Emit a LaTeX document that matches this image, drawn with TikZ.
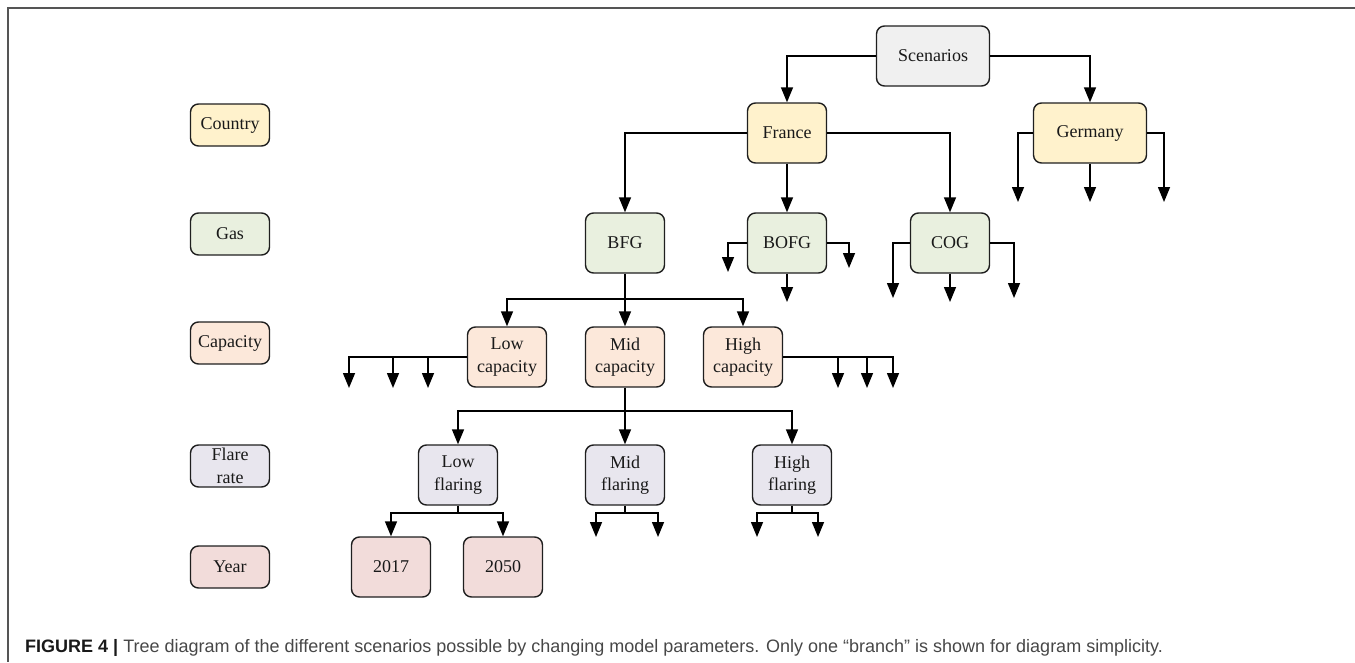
\documentclass[tikz,border=0pt]{standalone}
\usepackage{fontspec}
\setmainfont{Liberation Serif}
\newfontfamily\capfont{Liberation Sans}
\usetikzlibrary{arrows.meta}
\definecolor{cscen}{HTML}{F0F0F0}
\definecolor{ccountry}{HTML}{FFF2CC}
\definecolor{cgas}{HTML}{E9F0DF}
\definecolor{ccap}{HTML}{FCE8DA}
\definecolor{cflare}{HTML}{E8E6EE}
\definecolor{cyear}{HTML}{F2DCDA}
\definecolor{cframe}{HTML}{555555}
\begin{document}
\begin{tikzpicture}[x=1pt,y=-1pt,
  box/.style={draw=black!88, line width=1.4pt, rounded corners=8pt, inner sep=0pt,
    align=center, font=\fontsize{18}{22.5}\selectfont, text=black!90,
    minimum width=79pt, minimum height=60pt},
  lab/.style={box, minimum height=42pt},
  wide/.style={minimum width=113pt},
  arr/.style={draw=black, line width=1.5pt, -{Triangle[width=12pt,length=15pt]}},
  frame/.style={draw=cframe, line width=1.6pt}]
\useasboundingbox (0,0) rectangle (1355,662);
\draw[frame] (1355,8) -- (8,8) -- (8,662);

% level labels
\node[lab, fill=ccountry] (lcountry) at (230,125) {Country};
\node[lab, fill=cgas] (lgas) at (230,234) {Gas};
\node[lab, fill=ccap] (lcap) at (230,343) {Capacity};
\node[lab, fill=cflare] (lflare) at (230,466) {Flare\\rate};
\node[lab, fill=cyear] (lyear) at (230,567) {Year};

% tree nodes
\node[box, wide, fill=cscen] (scen) at (933,56) {Scenarios};
\node[box, fill=ccountry] (france) at (787,133) {France};
\node[box, wide, fill=ccountry] (germany) at (1090,133) {Germany};
\node[box, fill=cgas] (bfg) at (625,243) {BFG};
\node[box, fill=cgas] (bofg) at (787,243) {BOFG};
\node[box, fill=cgas] (cog) at (950,243) {COG};
\node[box, fill=ccap] (lowcap) at (507,357) {Low\\capacity};
\node[box, fill=ccap] (midcap) at (625,357) {Mid\\capacity};
\node[box, fill=ccap] (highcap) at (743,357) {High\\capacity};
\node[box, fill=cflare] (lowfl) at (458,475) {Low\\flaring};
\node[box, fill=cflare] (midfl) at (625,475) {Mid\\flaring};
\node[box, fill=cflare] (highfl) at (792,475) {High\\flaring};
\node[box, fill=cyear] (y2017) at (391,567) {2017};
\node[box, fill=cyear] (y2050) at (503,567) {2050};

% junctions and free ends
\coordinate (bfgj) at (625,299);
\coordinate (midcapj) at (625,411);
\coordinate (lowflj) at (458,513);
\coordinate (midflj) at (625,513);
\coordinate (highflj) at (792,513);
\coordinate (ge1) at (1018,202);
\coordinate (ge2) at (1090,202);
\coordinate (ge3) at (1164,202);
\coordinate (bo1) at (728,272);
\coordinate (bo2) at (787,302);
\coordinate (bo3) at (849,268);
\coordinate (co1) at (893,298);
\coordinate (co2) at (950,302);
\coordinate (co3) at (1014,298);
\coordinate (lc1) at (349,388);
\coordinate (lc2) at (393,388);
\coordinate (lc3) at (428,388);
\coordinate (hc1) at (838,388);
\coordinate (hc2) at (867,388);
\coordinate (hc3) at (893,388);
\coordinate (mf1) at (596,537);
\coordinate (mf2) at (658,537);
\coordinate (hf1) at (757,537);
\coordinate (hf2) at (818,537);

% connectors
\draw[arr] (scen.west) -| (france.north);
\draw[arr] (scen.east) -| (germany.north);
\draw[arr] (france.west) -| (bfg.north);
\draw[arr] (france.south) -- (bofg.north);
\draw[arr] (france.east) -| (cog.north);

\draw[arr] (germany.west) -| (ge1);
\draw[arr] (germany.south) -- (ge2);
\draw[arr] (germany.east) -| (ge3);

\draw[arr] (bofg.west) -| (bo1);
\draw[arr] (bofg.south) -- (bo2);
\draw[arr] (bofg.east) -| (bo3);

\draw[arr] (cog.west) -| (co1);
\draw[arr] (cog.south) -- (co2);
\draw[arr] (cog.east) -| (co3);

\draw[arr] (bfg.south) -- (midcap.north);
\draw[arr] (bfgj) -| (lowcap.north);
\draw[arr] (bfgj) -| (highcap.north);

\draw[arr] (lowcap.west) -| (lc1);
\draw[arr] (lowcap.west -| lc2) -- (lc2);
\draw[arr] (lowcap.west -| lc3) -- (lc3);
\draw[arr] (highcap.east) -| (hc3);
\draw[arr] (highcap.east -| hc1) -- (hc1);
\draw[arr] (highcap.east -| hc2) -- (hc2);

\draw[arr] (midcap.south) -- (midfl.north);
\draw[arr] (midcapj) -| (lowfl.north);
\draw[arr] (midcapj) -| (highfl.north);

\draw[line width=1.5pt] (lowfl.south) -- (lowflj);
\draw[arr] (lowflj) -| (y2017.north);
\draw[arr] (lowflj) -| (y2050.north);

\draw[line width=1.5pt] (midfl.south) -- (midflj);
\draw[arr] (midflj) -| (mf1);
\draw[arr] (midflj) -| (mf2);

\draw[line width=1.5pt] (highfl.south) -- (highflj);
\draw[arr] (highflj) -| (hf1);
\draw[arr] (highflj) -| (hf2);

% caption
\node[anchor=base west, inner sep=0pt, font=\capfont\fontsize{18}{22}\selectfont, text=black!72] (caption) at (25,652)
  {{\bfseries\color{black!90}FIGURE 4 |} Tree diagram of the different scenarios possible by changing model parameters. Only one “branch” is shown for diagram simplicity.};
\end{tikzpicture}
\end{document}
